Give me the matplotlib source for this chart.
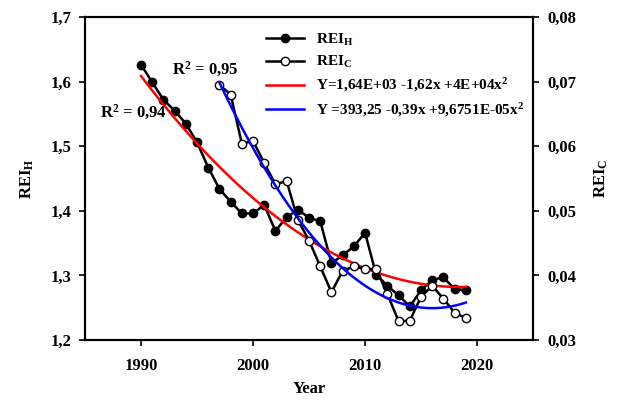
import numpy as np
import matplotlib
matplotlib.use("Agg")
from matplotlib import pyplot as plt

# data
years_h = list(range(1990, 2020))
rei_h = [1.626, 1.599, 1.572, 1.555, 1.535, 1.506, 1.467, 1.434, 1.414, 1.396,
         1.396, 1.409, 1.369, 1.390, 1.402, 1.389, 1.384, 1.319, 1.331, 1.345,
         1.366, 1.301, 1.284, 1.269, 1.252, 1.277, 1.293, 1.297, 1.279, 1.277]

years_c = list(range(1997, 2020))
rei_c = [0.0695, 0.0680, 0.0604, 0.0608, 0.0574, 0.0541, 0.0546, 0.0486, 0.0454,
         0.0414, 0.0374, 0.0407, 0.0414, 0.0410, 0.0410, 0.0371, 0.0329, 0.0330,
         0.0367, 0.0384, 0.0364, 0.0342, 0.0334]

x_ticks = [1990, 2000, 2010, 2020]
left_ticks = [1.2, 1.3, 1.4, 1.5, 1.6, 1.7]
right_ticks = [0.03, 0.04, 0.05, 0.06, 0.07, 0.08]

fit_h_label = 'Y=1,64E+03 -1,62x +4E+04x$^\\mathbf{2}$'
fit_c_label = 'Y =393,25 -0,39x +9,6751E-05x$^\\mathbf{2}$'
r2_h = 'R$^\\mathbf{2}$ = 0,94'
r2_c = 'R$^\\mathbf{2}$ = 0,95'

plt.rcParams['font.family'] = ['Liberation Serif']
plt.rcParams['font.weight'] = 'bold'
plt.rcParams['axes.labelweight'] = 'bold'
plt.rcParams['mathtext.fontset'] = 'custom'
plt.rcParams['mathtext.rm'] = 'Liberation Serif:bold'
plt.rcParams['mathtext.bf'] = 'Liberation Serif:bold'
plt.rcParams['mathtext.it'] = 'Liberation Serif:bold'

fig = plt.figure(figsize=(6.22, 4.01), dpi=100)
ax = fig.add_axes([0.1367, 0.152, 0.7203, 0.8056])
ax2 = ax.twinx()

# quadratic fits of each series
ph = np.polyfit(years_h, rei_h, 2)
pc = np.polyfit(years_c, rei_c, 2)
xh = np.linspace(years_h[0], years_h[-1], 200)
xc = np.linspace(years_c[0], years_c[-1], 200)

l1, = ax.plot(years_h, rei_h, color='black', lw=1.8, marker='o', ms=6,
              mfc='black', mec='black', label='REI$_\\mathbf{H}$', zorder=3)
l2, = ax2.plot(years_c, rei_c, color='black', lw=1.8, marker='o', ms=6,
               mfc='white', mec='black', mew=1, label='REI$_\\mathbf{C}$', zorder=3)
l3, = ax.plot(xh, np.polyval(ph, xh), color='red', lw=1.8, label=fit_h_label, zorder=4)
l4, = ax2.plot(xc, np.polyval(pc, xc), color='blue', lw=1.8, label=fit_c_label, zorder=4)

ax.set_xlim(1985, 2025)
ax.set_ylim(1.2, 1.7)
ax2.set_ylim(0.03, 0.08)
ax.set_xticks(x_ticks)
ax.set_yticks(left_ticks)
ax2.set_yticks(right_ticks)
ax.set_yticklabels([f'{v:.1f}'.replace('.', ',') for v in left_ticks])
ax2.set_yticklabels([f'{v:.2f}'.replace('.', ',') for v in right_ticks])

for a in (ax, ax2):
    for s in a.spines.values():
        s.set_linewidth(1.5)
    a.tick_params(direction='out', length=4, width=1.2, labelsize=12, pad=6)
ax.tick_params(axis='x', pad=9)

ax.set_xlabel('Year', fontsize=12, labelpad=5)
ax.set_ylabel('REI$_\\mathbf{H}$', fontsize=12, labelpad=10)
ax2.set_ylabel('REI$_\\mathbf{C}$', fontsize=12, labelpad=12)

ax.text(0.033, 0.706, r2_h, transform=ax.transAxes, fontsize=12, va='center')
ax.text(0.194, 0.839, r2_c, transform=ax.transAxes, fontsize=12, va='center')

leg = ax2.legend(handles=[l1, l2, l3, l4], loc='upper left',
                 bbox_to_anchor=(0.404, 0.955), frameon=False, fontsize=11,
                 handlelength=2.5, handletextpad=0.75, labelspacing=0.42,
                 borderpad=0, borderaxespad=0)

fig.savefig('out.png', dpi=100)
